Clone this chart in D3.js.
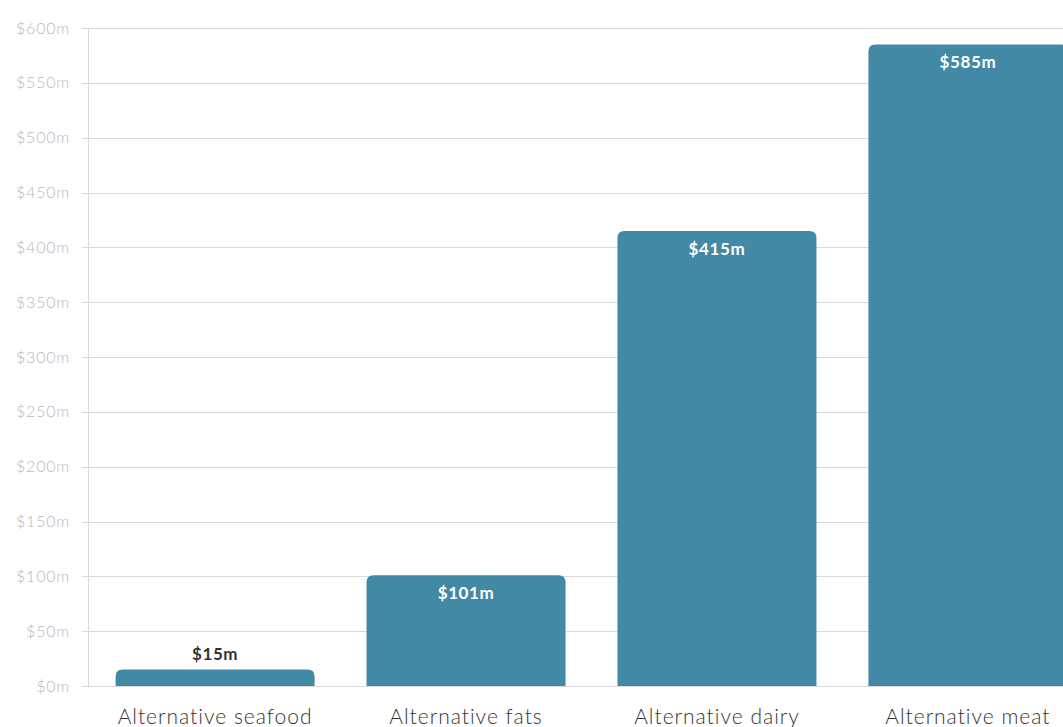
<!DOCTYPE html>
<html>
<head>
<meta charset="utf-8">
<script src="https://cdn.jsdelivr.net/npm/d3@7"></script>
<style>
  body { margin: 0; background: #fff; }
  svg { display: block; font-family: "Lato", "Open Sans", sans-serif; }
</style>
</head>
<body>
<svg id="chart" width="1063" height="727"></svg>
<script>
// categories and values (in $m)
var categories = ["Alternative seafood", "Alternative fats", "Alternative dairy", "Alternative meat"];
var values = [15, 101, 415, 585];
var yTicks = [0, 50, 100, 150, 200, 250, 300, 350, 400, 450, 500, 550, 600];

var margin = {left: 88, top: 28, bottom: 41},
    width = 1063, height = 727,
    barColor = "#4289a6";

var svg = d3.select("#chart");

var x = d3.scaleBand()
    .domain(categories)
    .range([margin.left, 1095])
    .paddingInner(0.207)
    .paddingOuter(0.11);

var y = d3.scaleLinear()
    .domain([0, 600])
    .range([height - margin.bottom, margin.top]);

// gridlines
svg.append("g")
    .selectAll("line")
    .data(yTicks)
    .enter().append("line")
    .attr("x1", margin.left - 6)
    .attr("x2", width)
    .attr("y1", function(d) { return Math.round(y(d)) + 0.5; })
    .attr("y2", function(d) { return Math.round(y(d)) + 0.5; })
    .attr("stroke", "#d9d9d9")
    .attr("stroke-width", 1);

// y axis line
svg.append("line")
    .attr("x1", margin.left + 0.5).attr("x2", margin.left + 0.5)
    .attr("y1", y(600)).attr("y2", y(0))
    .attr("stroke", "#d9d9d9");

// tick labels
svg.append("g")
    .selectAll("text")
    .data(yTicks)
    .enter().append("text")
    .attr("x", 70)
    .attr("y", function(d) { return y(d); })
    .attr("dy", "0.35em")
    .attr("text-anchor", "end")
    .attr("fill", "#b8b8b8")
    .style("font-size", "16px")
    .style("font-weight", "300")
    .style("letter-spacing", "0.8px")
    .text(function(d) { return "$" + d + "m"; });

// rounded-top bar path
function barPath(x0, w, yTop, yBot, r) {
  r = Math.min(r, (yBot - yTop));
  return "M" + x0 + "," + yBot +
    "V" + (yTop + r) +
    "Q" + x0 + "," + yTop + " " + (x0 + r) + "," + yTop +
    "H" + (x0 + w - r) +
    "Q" + (x0 + w) + "," + yTop + " " + (x0 + w) + "," + (yTop + r) +
    "V" + yBot + "Z";
}

svg.append("g")
    .selectAll("path")
    .data(values)
    .enter().append("path")
    .attr("d", function(d, i) {
      return barPath(x(categories[i]), x.bandwidth(), y(d), y(0), 7);
    })
    .attr("fill", barColor);

// value labels
svg.append("g")
    .selectAll("text")
    .data(values)
    .enter().append("text")
    .attr("x", function(d, i) { return x(categories[i]) + x.bandwidth() / 2; })
    .attr("y", function(d) { return y(d) < y(0) - 40 ? y(d) + 24 : y(d) - 10; })
    .attr("text-anchor", "middle")
    .attr("fill", function(d) { return y(d) < y(0) - 40 ? "#ffffff" : "#333333"; })
    .style("font-size", "17px")
    .style("font-weight", "bold")
    .style("letter-spacing", "0.6px")
    .text(function(d) { return "$" + d + "m"; });

// category labels
svg.append("g")
    .selectAll("text")
    .data(categories)
    .enter().append("text")
    .attr("x", function(d) { return x(d) + x.bandwidth() / 2; })
    .attr("y", 724)
    .attr("text-anchor", "middle")
    .attr("fill", "#333333")
    .style("font-size", "21px")
    .style("font-weight", "300")
    .style("letter-spacing", "1px")
    .text(function(d) { return d; });
</script>
</body>
</html>
